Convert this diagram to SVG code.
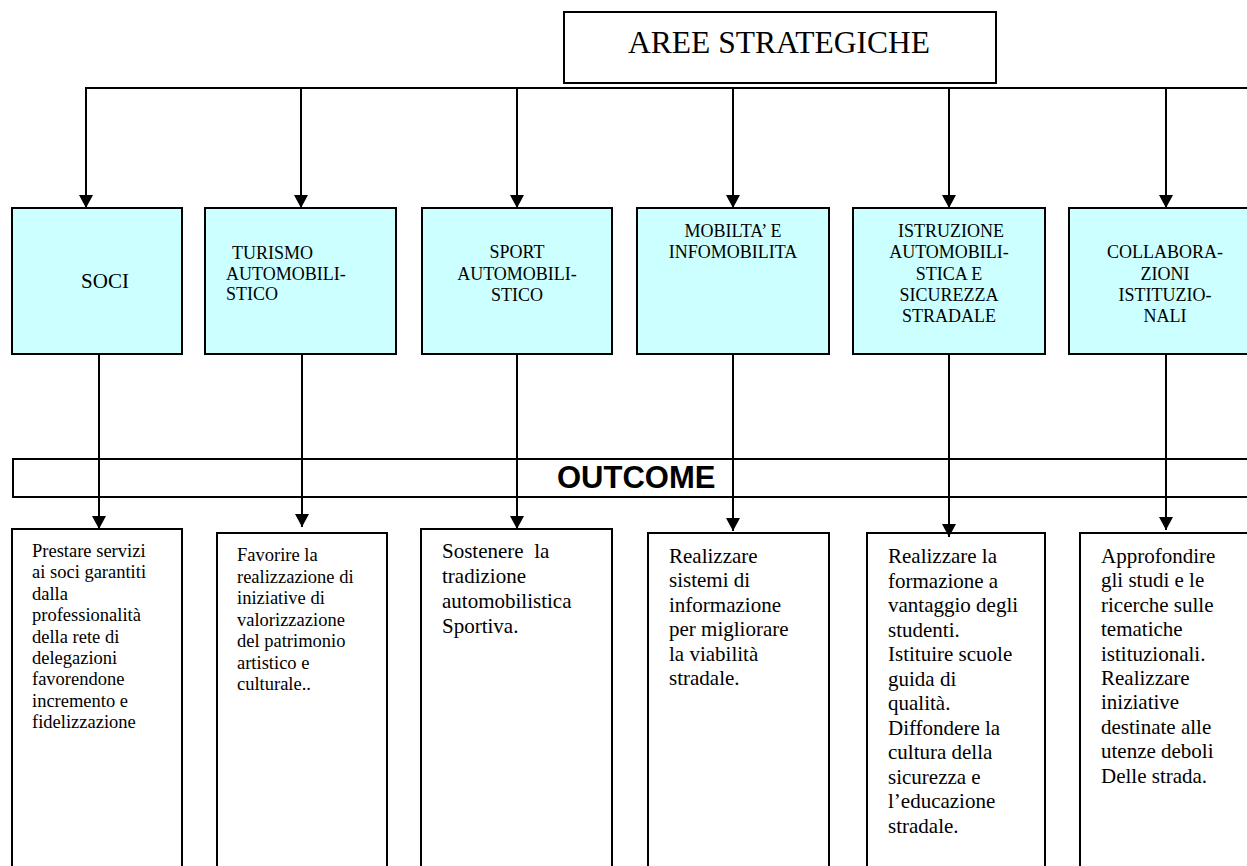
<svg xmlns="http://www.w3.org/2000/svg" width="1247" height="866" viewBox="0 0 1247 866">
<style>
.box{fill:#fff;stroke:#000;stroke-width:2}
.cy{fill:#ccffff;stroke:#000;stroke-width:2}
.ln{stroke:#000;stroke-width:2;fill:none}
.t{font-family:"Liberation Serif","Times New Roman",serif;fill:#000}
.h{font-size:18px;text-anchor:middle}
.s{font-size:18.5px}
.m{font-size:21px}
</style>
<defs>
<marker id="ah" viewBox="0 0 13 14" refX="13" refY="7" markerWidth="13" markerHeight="14" markerUnits="userSpaceOnUse" orient="auto">
<path d="M0,0 L13,7 L0,14 Z" fill="#000"/>
</marker>
</defs>
<rect width="1247" height="866" fill="#fff"/>

<g id="top">
<rect class="box" x="564" y="12" width="432" height="71"/>
<text class="t" x="779" y="53" font-size="31.5" text-anchor="middle">AREE STRATEGICHE</text>
</g>

<g id="outcome">
<rect class="box" x="13" y="459" width="1250" height="38"/>
<text x="557" y="488" font-family="'Liberation Sans',Arial,sans-serif" font-weight="bold" font-size="31">OUTCOME</text>
</g>

<g id="soci">
<rect class="cy" x="12" y="208" width="170" height="146"/>
<text class="t" x="105" y="288" font-size="21" text-anchor="middle">SOCI</text>
</g>
<g id="turismo">
<rect class="cy" x="205" y="208" width="191" height="146"/>
<text class="t" font-size="18"><tspan x="232" y="259">TURISMO</tspan><tspan x="226" y="280">AUTOMOBILI-</tspan><tspan x="226" y="300">STICO</tspan></text>
</g>
<g id="sport">
<rect class="cy" x="422" y="208" width="190" height="146"/>
<text class="t h"><tspan x="517" y="258">SPORT</tspan><tspan x="517" y="280">AUTOMOBILI-</tspan><tspan x="517" y="301">STICO</tspan></text>
</g>
<g id="mobilita">
<rect class="cy" x="637" y="208" width="192" height="146"/>
<text class="t h"><tspan x="733" y="237">MOBILTA’ E</tspan><tspan x="733" y="258">INFOMOBILITA</tspan></text>
</g>
<g id="istruzione">
<rect class="cy" x="853" y="208" width="192" height="146"/>
<text class="t h"><tspan x="951" y="237">ISTRUZIONE</tspan><tspan x="949" y="258">AUTOMOBILI-</tspan><tspan x="949" y="280">STICA E</tspan><tspan x="949" y="301">SICUREZZA</tspan><tspan x="949" y="322">STRADALE</tspan></text>
</g>
<g id="collaborazioni">
<rect class="cy" x="1069" y="208" width="200" height="146"/>
<text class="t h"><tspan x="1165" y="258">COLLABORA-</tspan><tspan x="1165" y="280">ZIONI</tspan><tspan x="1165" y="301">ISTITUZIO-</tspan><tspan x="1165" y="322">NALI</tspan></text>
</g>

<g id="out1">
<rect class="box" x="12" y="529" width="170" height="350"/>
<text class="t s"><tspan x="32" y="557">Prestare servizi</tspan><tspan x="32" y="578.4">ai soci garantiti</tspan><tspan x="32" y="599.8">dalla</tspan><tspan x="32" y="621.2">professionalità</tspan><tspan x="32" y="642.6">della rete di</tspan><tspan x="32" y="664">delegazioni</tspan><tspan x="32" y="685.4">favorendone</tspan><tspan x="32" y="706.8">incremento e</tspan><tspan x="32" y="728.2">fidelizzazione</tspan></text>
</g>
<g id="out2">
<rect class="box" x="217" y="533" width="170" height="350"/>
<text class="t s"><tspan x="237" y="561">Favorire la</tspan><tspan x="237" y="582.5">realizzazione di</tspan><tspan x="237" y="604">iniziative di</tspan><tspan x="237" y="625.5">valorizzazione</tspan><tspan x="237" y="647">del patrimonio</tspan><tspan x="237" y="668.5">artistico e</tspan><tspan x="237" y="690">culturale..</tspan></text>
</g>
<g id="out3">
<rect class="box" x="421" y="529" width="191" height="350"/>
<text class="t m"><tspan x="442" y="558">Sostenere&#160; la</tspan><tspan x="442" y="583">tradizione</tspan><tspan x="442" y="608">automobilistica</tspan><tspan x="442" y="633">Sportiva.</tspan></text>
</g>
<g id="out4">
<rect class="box" x="648" y="533" width="181" height="350"/>
<text class="t m"><tspan x="669" y="563">Realizzare</tspan><tspan x="669" y="587.4">sistemi di</tspan><tspan x="669" y="611.8">informazione</tspan><tspan x="669" y="636.2">per migliorare</tspan><tspan x="669" y="660.6">la viabilità</tspan><tspan x="669" y="685">stradale.</tspan></text>
</g>
<g id="out5">
<rect class="box" x="867" y="533" width="178" height="350"/>
<text class="t m"><tspan x="888" y="563">Realizzare la</tspan><tspan x="888" y="587.5">formazione a</tspan><tspan x="888" y="612">vantaggio degli</tspan><tspan x="888" y="636.5">studenti.</tspan><tspan x="888" y="661">Istituire scuole</tspan><tspan x="888" y="685.5">guida di</tspan><tspan x="888" y="710">qualità.</tspan><tspan x="888" y="734.5">Diffondere la</tspan><tspan x="888" y="759">cultura della</tspan><tspan x="888" y="783.5">sicurezza e</tspan><tspan x="888" y="808">l’educazione</tspan><tspan x="888" y="832.5">stradale.</tspan></text>
</g>
<g id="out6">
<rect class="box" x="1080" y="533" width="200" height="350"/>
<text class="t m"><tspan x="1101" y="563">Approfondire</tspan><tspan x="1101" y="587.4">gli studi e le</tspan><tspan x="1101" y="611.8">ricerche sulle</tspan><tspan x="1101" y="636.2">tematiche</tspan><tspan x="1101" y="660.6">istituzionali.</tspan><tspan x="1101" y="685">Realizzare</tspan><tspan x="1101" y="709.4">iniziative</tspan><tspan x="1101" y="733.8">destinate alle</tspan><tspan x="1101" y="758.2">utenze deboli</tspan><tspan x="1101" y="782.6">Delle strada.</tspan></text>
</g>

<g id="connectors">
<line class="ln" x1="85" y1="88" x2="1250" y2="88"/>
<line class="ln" x1="86" y1="88" x2="86" y2="208" marker-end="url(#ah)"/>
<line class="ln" x1="301" y1="88" x2="301" y2="208" marker-end="url(#ah)"/>
<line class="ln" x1="517" y1="88" x2="517" y2="208" marker-end="url(#ah)"/>
<line class="ln" x1="733" y1="88" x2="733" y2="208" marker-end="url(#ah)"/>
<line class="ln" x1="949" y1="88" x2="949" y2="208" marker-end="url(#ah)"/>
<line class="ln" x1="1166" y1="88" x2="1166" y2="208" marker-end="url(#ah)"/>
<line class="ln" x1="99" y1="354" x2="99" y2="529" marker-end="url(#ah)"/>
<line class="ln" x1="302" y1="354" x2="302" y2="527" marker-end="url(#ah)"/>
<line class="ln" x1="517" y1="354" x2="517" y2="529" marker-end="url(#ah)"/>
<line class="ln" x1="733" y1="354" x2="733" y2="531" marker-end="url(#ah)"/>
<line class="ln" x1="949" y1="354" x2="949" y2="537" marker-end="url(#ah)"/>
<line class="ln" x1="1166" y1="354" x2="1166" y2="530" marker-end="url(#ah)"/>
</g>
</svg>
